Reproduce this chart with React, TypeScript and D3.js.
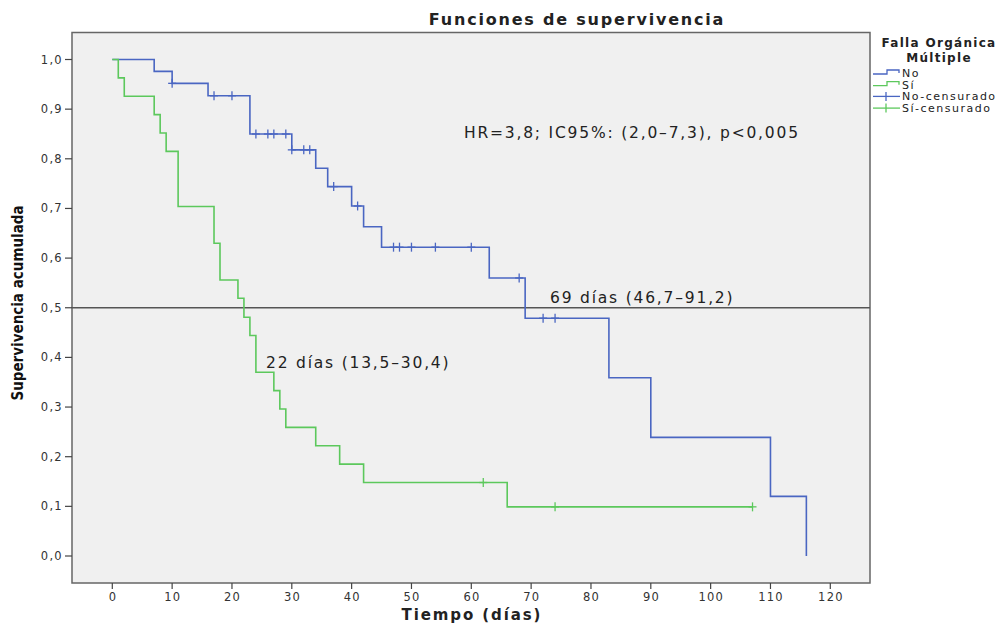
import React from 'react';
import * as d3 from 'd3';

// Kaplan-Meier steps
const noTimes = [0, 7, 10, 16, 23, 30, 34, 36, 40, 42, 45, 63, 69, 83, 90, 110, 116];
const noSurv = [1, 0.976, 0.952, 0.927, 0.85, 0.818, 0.781, 0.744, 0.705, 0.663, 0.622, 0.56, 0.479, 0.359, 0.239, 0.12, 0];
const noCensored = [10, 17, 20, 24, 26, 27, 29, 30, 32, 33, 37, 41, 47, 48, 50, 54, 60, 68, 72, 74];

const siTimes = [0, 1, 2, 7, 8, 9, 11, 17, 18, 21, 22, 23, 24, 27, 28, 29, 34, 38, 42, 66, 107];
const siSurv = [1, 0.963, 0.926, 0.889, 0.852, 0.815, 0.704, 0.63, 0.556, 0.519, 0.481, 0.444, 0.37, 0.333, 0.296, 0.259, 0.222, 0.185, 0.148, 0.099, 0.099];
const siCensored = [62, 74, 107];

const xTicks = [0, 10, 20, 30, 40, 50, 60, 70, 80, 90, 100, 110, 120];
const yTicks = [0, 0.1, 0.2, 0.3, 0.4, 0.5, 0.6, 0.7, 0.8, 0.9, 1.0];

const legendItems = ['No', 'Sí', 'No-censurado', 'Sí-censurado'];

const BLUE = '#4a66c2';
const GREEN = '#5cc85c';
const FONT = '"DejaVu Sans", Verdana, sans-serif';

function survAt(times: number[], surv: number[], t: number) {
  let i = 0;
  while (i + 1 < times.length && times[i + 1] <= t) i++;
  return surv[i];
}

export default function App() {
  const width = 1001;
  const height = 624;
  const plot = { left: 72, right: 870, top: 32.5, bottom: 583 };

  const x = d3.scaleLinear().domain([0, 120]).range([112.3, 830.3]);
  const y = d3.scaleLinear().domain([0, 1]).range([556, 59.5]);

  const step = d3.line<[number, number]>()
    .x(d => x(d[0]))
    .y(d => y(d[1]))
    .curve(d3.curveStepAfter);

  const noPath = step(noTimes.map((t, i) => [t, noSurv[i]]));
  const siPath = step(siTimes.map((t, i) => [t, siSurv[i]]));

  const tick = (t: number, s: number, color: string, key: string) => (
    <g key={key} stroke={color} strokeWidth={1.3}>
      <line x1={x(t)} x2={x(t)} y1={y(s) - 4.5} y2={y(s) + 4.5} />
      <line x1={x(t) - 4} x2={x(t) + 4} y1={y(s)} y2={y(s)} />
    </g>
  );

  return (
    <svg width={width} height={height} style={{ position: 'absolute', left: 0, top: 0, background: '#fff' }}
      fontFamily={FONT}>
      {/* plot background */}
      <rect x={plot.left} y={plot.top} width={plot.right - plot.left} height={plot.bottom - plot.top}
        fill="#f0f0f0" stroke="#666" strokeWidth={1.5} />

      {/* title */}
      <text x={577} y={25} textAnchor="middle" fontSize={16} fontWeight="bold" fill="#222" letterSpacing={1.8}>
        Funciones de supervivencia
      </text>

      {/* y axis */}
      {yTicks.map(v => (
        <g key={'y' + v}>
          <line x1={plot.left - 7} x2={plot.left} y1={y(v)} y2={y(v)} stroke="#444" strokeWidth={1.2} />
          <text x={plot.left - 9} y={y(v) + 4} textAnchor="end" fontSize={11.5} fill="#333" letterSpacing={1.3}>
            {d3.format('.1f')(v).replace('.', ',')}
          </text>
        </g>
      ))}
      <text transform={`translate(23,303) rotate(-90)`} textAnchor="middle" fontSize={15} fontWeight="bold"
        fontFamily='"DejaVu Sans Condensed", "Liberation Sans Narrow", sans-serif' style={{ fontStretch: 'condensed' }}
        fill="#111">
        Supervivencia acumulada
      </text>

      {/* x axis */}
      {xTicks.map(v => (
        <g key={'x' + v}>
          <line x1={x(v)} x2={x(v)} y1={plot.bottom} y2={plot.bottom + 6} stroke="#444" strokeWidth={1.2} />
          <text x={x(v) + 0.6} y={601} textAnchor="middle" fontSize={11.5} fill="#333" letterSpacing={1.2}>{v}</text>
        </g>
      ))}
      <text x={472} y={620} textAnchor="middle" fontSize={15} fontWeight="bold" fill="#222" letterSpacing={1.9}>
        Tiempo (días)
      </text>

      {/* median reference line */}
      <line x1={plot.left} x2={plot.right} y1={y(0.5)} y2={y(0.5)} stroke="#555" strokeWidth={1.4} />

      {/* survival curves */}
      <path d={noPath ?? ''} fill="none" stroke={BLUE} strokeWidth={1.6} />
      <path d={siPath ?? ''} fill="none" stroke={GREEN} strokeWidth={1.6} />
      {noCensored.map((t, i) => tick(t, survAt(noTimes, noSurv, t), BLUE, 'nc' + i))}
      {siCensored.map((t, i) => tick(t, survAt(siTimes, siSurv, t), GREEN, 'sc' + i))}

      {/* annotations */}
      <g fontSize={15.5} fill="#222" letterSpacing={1.8}>
        <text x={464} y={138}>HR=3,8; IC95%: (2,0–7,3), p&lt;0,005</text>
        <text x={550} y={303}>69 días (46,7–91,2)</text>
        <text x={266} y={368}>22 días (13,5–30,4)</text>
      </g>

      {/* legend */}
      <g fontSize={12} fontWeight="bold" fill="#222" letterSpacing={1.3} textAnchor="middle">
        <text x={939} y={47}>Falla Orgánica</text>
        <text x={939} y={61.5}>Múltiple</text>
      </g>
      {legendItems.map((name, i) => {
        const ly = 73 + i * 11.7;
        const color = i % 2 === 0 ? BLUE : GREEN;
        return (
          <g key={name}>
            {i < 2 ? (
              <path d={`M873,${ly + 1} H887 V${ly - 3} H899 V${ly}`} fill="none" stroke={color} strokeWidth={1.3} />
            ) : (
              <g stroke={color} strokeWidth={1.3}>
                <line x1={873} x2={900} y1={ly} y2={ly} />
                <line x1={886} x2={886} y1={ly - 4.5} y2={ly + 4.5} />
              </g>
            )}
            <text x={902} y={ly + 4} fontSize={11} fill="#222" letterSpacing={1.5}>{name}</text>
          </g>
        );
      })}
    </svg>
  );
}
